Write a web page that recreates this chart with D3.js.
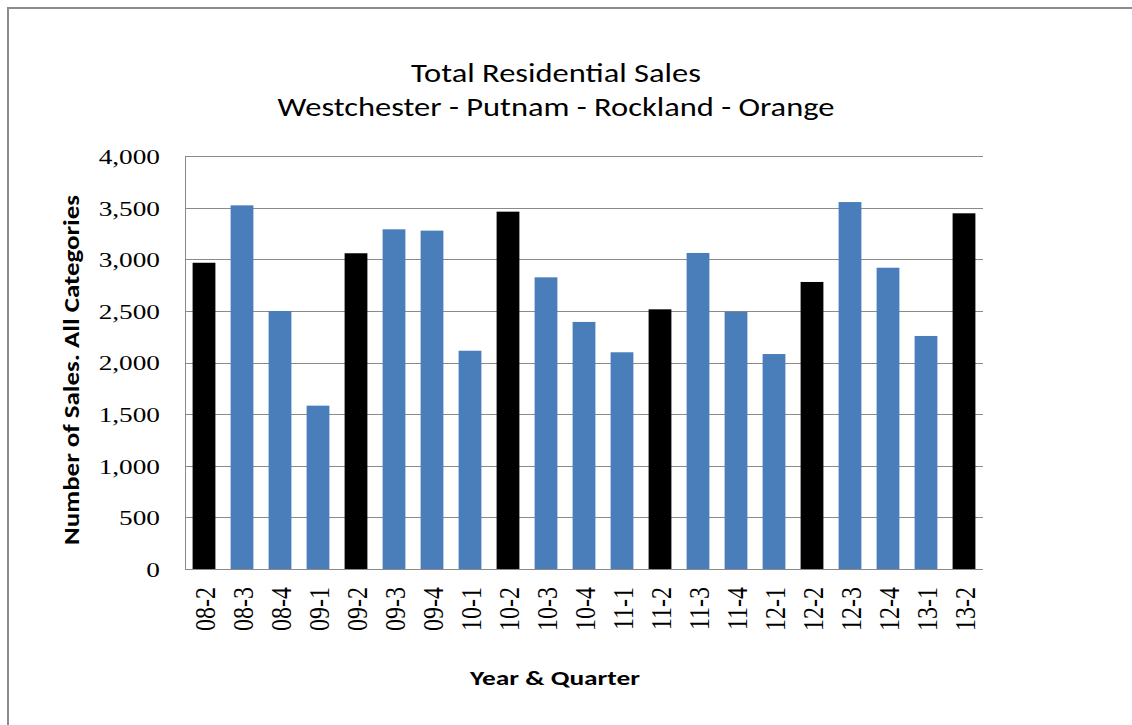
<!DOCTYPE html>
<html>
<head>
<meta charset="utf-8">
<script src="https://cdn.jsdelivr.net/npm/d3@7"></script>
<style>
  body { margin: 0; background: #fff; }
  svg { display: block; }
</style>
</head>
<body>
<svg id="chart"></svg>
<script>
/* Total Residential Sales bar chart */

// categories (year-quarter) and number of sales
var quarters = ["08-2","08-3","08-4","09-1","09-2","09-3","09-4","10-1","10-2","10-3","10-4",
                "11-1","11-2","11-3","11-4","12-1","12-2","12-3","12-4","13-1","13-2"];
var sales = [2966, 3522, 2499, 1582, 3058, 3290, 3277, 2114, 3461, 2825, 2393,
             2099, 2515, 3061, 2492, 2082, 2780, 3554, 2918, 2257, 3445];
// second quarters drawn in black
var darkQuarters = ["08-2","09-2","10-2","11-2","12-2","13-2"];
var yTicks = [0, 500, 1000, 1500, 2000, 2500, 3000, 3500, 4000];

var W = 1132, H = 725;
var margin = {top: 156, right: 149, bottom: 156, left: 185},
    width = W - margin.left - margin.right,
    height = H - margin.top - margin.bottom;

var stretch = 1.24; // tick text in the picture is widened horizontally

var svg = d3.select("#chart").attr("width", W).attr("height", H);

// outer frame (top and left edges only visible)
svg.append("path")
    .attr("d", "M8,725 V8 H1140")
    .attr("fill", "none")
    .attr("stroke", "#8c8c8c")
    .attr("stroke-width", 2);

var g = svg.append("g")
    .attr("transform", "translate(" + margin.left + "," + margin.top + ")");

var x = d3.scaleBand()
    .domain(quarters)
    .range([0, width])
    .paddingInner(0.4)
    .paddingOuter(0.2);

var y = d3.scaleLinear()
    .domain([0, 4000])
    .range([height, 0]);

// gridlines
g.append("g")
    .selectAll("line")
    .data(yTicks)
    .enter().append("line")
    .attr("x1", 0)
    .attr("x2", width)
    .attr("y1", function(d){ return Math.round(y(d)) + 0.5; })
    .attr("y2", function(d){ return Math.round(y(d)) + 0.5; })
    .attr("stroke", "#8a8a8a")
    .attr("stroke-width", 1);

// bars
g.append("g")
    .selectAll("rect")
    .data(quarters)
    .enter().append("rect")
    .attr("x", function(d){ return x(d); })
    .attr("width", x.bandwidth())
    .attr("y", function(d, i){ return y(sales[i]); })
    .attr("height", function(d, i){ return height - y(sales[i]); })
    .attr("fill", function(d){ return darkQuarters.indexOf(d) >= 0 ? "#000000" : "#4a7ebb"; });

// y axis
var yAxis = g.append("g")
    .attr("class", "y axis")
    .call(d3.axisLeft(y).tickValues(yTicks).tickSize(0).tickPadding(0)
          .tickFormat(d3.format(",")));
yAxis.select(".domain").attr("stroke", "#8a8a8a").attr("d", "M0.5,0V" + (height + 0.5));
yAxis.selectAll("text")
    .attr("x", 0)
    .attr("dy", "0.34em")
    .attr("transform", "translate(-25,0) scale(" + stretch + ",1)")
    .style("font-family", "'Liberation Serif', 'Times New Roman', serif")
    .style("font-size", "22px")
    .attr("fill", "#000");

// x axis
var xAxis = g.append("g")
    .attr("class", "x axis")
    .attr("transform", "translate(0," + height + ")")
    .call(d3.axisBottom(x).tickSize(0).tickPadding(0));
xAxis.select(".domain").attr("stroke", "#8a8a8a").attr("d", "M0,0.5H" + width);
xAxis.selectAll("text")
    .attr("x", 0)
    .attr("y", 0)
    .attr("dy", "0.34em")
    .style("text-anchor", "end")
    .attr("transform", "translate(1,18) scale(" + stretch + ",1) rotate(-90)")
    .style("font-family", "'Liberation Serif', 'Times New Roman', serif")
    .style("font-size", "24px")
    .attr("fill", "#000");

// titles: sized by glyph height, then widened along the text to the picture's length
var sans = "Carlito, 'Open Sans', 'Noto Sans', sans-serif";

function fittedText(px, py, txt, size, weight, len, rot) {
    var t = svg.append("text")
        .attr("text-anchor", "middle")
        .style("font-family", sans)
        .style("font-size", size + "px")
        .style("font-weight", weight)
        .attr("fill", "#000")
        .text(txt);
    var k = len / t.node().getComputedTextLength();
    t.attr("transform", "translate(" + px + "," + py + ")" + (rot ? " rotate(" + rot + ")" : "") + " scale(" + k + ",1)");
}

fittedText(556, 82, "Total Residential Sales", 27, 400, 290);
fittedText(556, 116, "Westchester - Putnam - Rockland - Orange", 27, 400, 557);
fittedText(79, 370, "Number of Sales. All Categories", 22, 700, 350, -90);
fittedText(555, 685, "Year & Quarter", 21, 700, 170);
</script>
</body>
</html>
